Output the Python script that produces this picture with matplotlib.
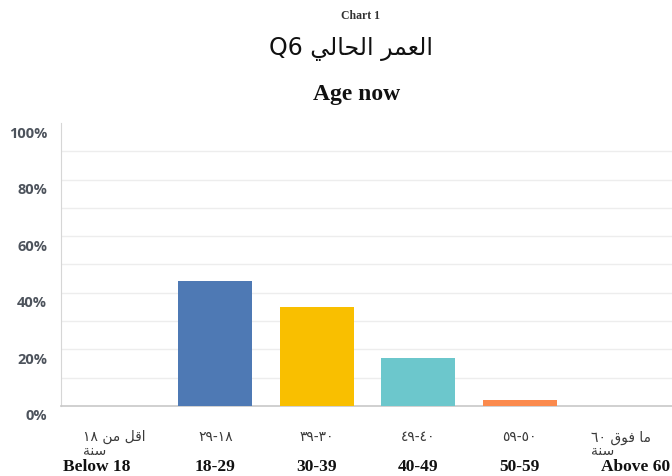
import matplotlib
matplotlib.use("Agg")
import matplotlib.pyplot as plt
import matplotlib.transforms as mtransforms

# data
categories_en = ["Below 18", "18-29", "30-39", "40-49", "50-59", "Above 60"]
# Arabic labels, written in presentation forms and visual order (no shaping in matplotlib)
categories_ar = [
    "\u0661\u0668 \uFEE6\uFEE3 \uFEDE\uFED7\uFE8D\n\uFE94\uFEE8\uFEB3",
    "\u0662\u0669-\u0661\u0668",
    "\u0663\u0669-\u0663\u0660",
    "\u0664\u0669-\u0664\u0660",
    "\u0665\u0669-\u0665\u0660",
    "\u0666\u0660 \uFED5\uFEEE\uFED3 \uFE8E\uFEE3\n\uFE94\uFEE8\uFEB3",
]
shares = [0, 44, 35, 17, 2, 0]
colors = ["#4e79b4", "#4e79b4", "#f9bf00", "#6cc7cc", "#fb8a4d", "#fb8a4d"]
yticks = [0, 20, 40, 60, 80, 100]
title_ar = "Q6 \uFEF2\uFEDF\uFE8E\uFEA4\uFEDF\uFE8D \uFEAE\uFEE4\uFECC\uFEDF\uFE8D"

fig = plt.figure(figsize=(6.72, 4.77), dpi=100)
ax = fig.add_axes([0.0908, 0.1468, 0.9092, 0.5932])

x = list(range(len(shares)))
ax.bar(x, shares, width=0.73, color=colors, zorder=3)

ax.set_xlim(-0.52, 5.5)
ax.set_ylim(0, 100)
for g in range(10, 100, 10):
    ax.axhline(g, color="#ededed", linewidth=1, zorder=0)
ax.set_yticks(yticks)
ax.set_yticklabels([f"{v}%" for v in yticks], fontsize=10.5, color="#4d535c",
                   fontweight="bold", family="Open Sans")
ax.tick_params(axis="y", which="both", length=0, pad=10)
offset = mtransforms.ScaledTranslation(0, -8 / 100, fig.dpi_scale_trans)
for lab in ax.get_yticklabels():
    lab.set_transform(lab.get_transform() + offset)
ax.set_xticks([])

for side in ["top", "right"]:
    ax.spines[side].set_visible(False)
ax.spines["left"].set_color("#d6d6d6")
ax.spines["bottom"].set_color("#c8c8c8")
ax.spines["bottom"].set_linewidth(1.2)

trans = mtransforms.blended_transform_factory(ax.transData, fig.transFigure)
for i, (en, ar) in enumerate(zip(categories_en, categories_ar)):
    ax.text(i, 0.098, ar, transform=trans, ha="center", va="top", ma="left",
            fontsize=10, color="#3a3a3a", family="DejaVu Sans", linespacing=0.95)
    xe, ha = i, "center"
    if i == 0:
        xe, ha = -0.5, "left"
    elif i == len(categories_en) - 1:
        xe, ha = 5.48, "right"
    ax.text(xe, 0.022, en, transform=trans, ha=ha, va="center",
            fontsize=12.5, fontweight="bold", family="Liberation Serif", color="#111111")

fig.text(0.537, 0.966, "Chart 1", ha="center", va="center", fontsize=8.5,
         fontweight="bold", family="Liberation Serif", color="#333333")
fig.text(0.523, 0.898, title_ar, ha="center", va="center", fontsize=17,
         family="DejaVu Sans", color="#111111")
fig.text(0.53, 0.802, "Age now", ha="center", va="center", fontsize=17,
         fontweight="bold", family="Liberation Serif", color="#111111")

fig.savefig("out.png", dpi=100)
